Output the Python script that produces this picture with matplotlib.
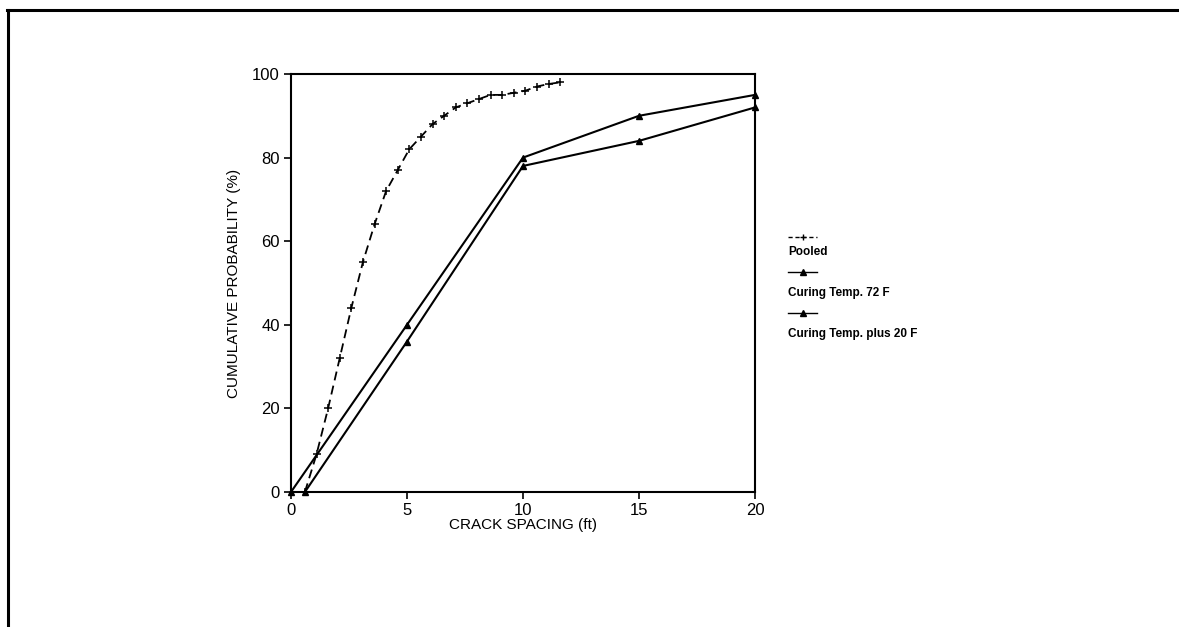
import matplotlib
matplotlib.use("Agg")
import matplotlib.pyplot as plt
from matplotlib.lines import Line2D

# crack spacing distributions (ft, %)
pooled_x = [0.6, 1.1, 1.6, 2.1, 2.6, 3.1, 3.6, 4.1, 4.6, 5.1, 5.6, 6.1,
            6.6, 7.1, 7.6, 8.1, 8.6, 9.1, 9.6, 10.1, 10.6, 11.1, 11.6]
pooled_y = [0, 9, 20, 32, 44, 55, 64, 72, 77, 82, 85, 88,
            90, 92, 93, 94, 95, 95, 95.5, 96, 97, 97.6, 98]

temp72_x = [0, 5, 10, 15, 20]
temp72_y = [0, 40, 80, 90, 95]

plus20_x = [0.6, 5, 10, 15, 20]
plus20_y = [0, 36, 78, 84, 92]

labels = ["Pooled", "Curing Temp. 72 F", "Curing Temp. plus 20 F"]

plt.rcParams['font.family'] = ['Liberation Sans', 'DejaVu Sans']

fig = plt.figure(figsize=(11.79, 6.27), dpi=100)
ax = fig.add_axes([0.2468, 0.2153, 0.3936, 0.6667])

ax.plot(pooled_x, pooled_y, color='black', linestyle=(0, (5, 3)), linewidth=1.3,
        marker='+', markersize=6, markeredgewidth=1.1, clip_on=False)
ax.plot(temp72_x, temp72_y, color='black', linewidth=1.5,
        marker='^', markersize=5, clip_on=False)
ax.plot(plus20_x, plus20_y, color='black', linewidth=1.5,
        marker='^', markersize=5, clip_on=False)

ax.set_xlim(0, 20)
ax.set_ylim(0, 100)
ax.set_xticks([0, 5, 10, 15, 20])
ax.set_yticks([0, 20, 40, 60, 80, 100])
ax.tick_params(direction='out', length=5, width=1.2, labelsize=12, pad=3)
for s in ax.spines.values():
    s.set_linewidth(1.5)

ax.set_xlabel('CRACK SPACING (ft)', fontsize=11, labelpad=0)
ax.set_ylabel('CUMULATIVE PROBABILITY (%)', fontsize=11, labelpad=8)

# legend: handle drawn above each label
W, H = 1179.0, 627.0
handle_styles = [((0, (3, 2)), '+', 5), ('-', '^', 4), ('-', '^', 5)]
handle_y = [237, 272, 313]
text_y = [252, 293, 334]
for lab, (ls, mk, ms), hy, ty in zip(labels, handle_styles, handle_y, text_y):
    fig.add_artist(Line2D([788 / W, 817 / W], [1 - hy / H, 1 - hy / H],
                          color='black', linewidth=1.0, linestyle=ls))
    fig.add_artist(Line2D([802.5 / W], [1 - hy / H], color='black',
                          marker=mk, markersize=ms, linestyle='none'))
    fig.text(788 / W, 1 - ty / H, lab, fontsize=8.5, fontweight='bold',
             ha='left', va='center')

# page frame (top and left edges)
fig.add_artist(Line2D([7 / W, 1.0], [1 - 10 / H, 1 - 10 / H], color='black', linewidth=2.2))
fig.add_artist(Line2D([8 / W, 8 / W], [0.0, 1 - 10 / H], color='black', linewidth=2.2))

fig.savefig('out.png', dpi=100)
